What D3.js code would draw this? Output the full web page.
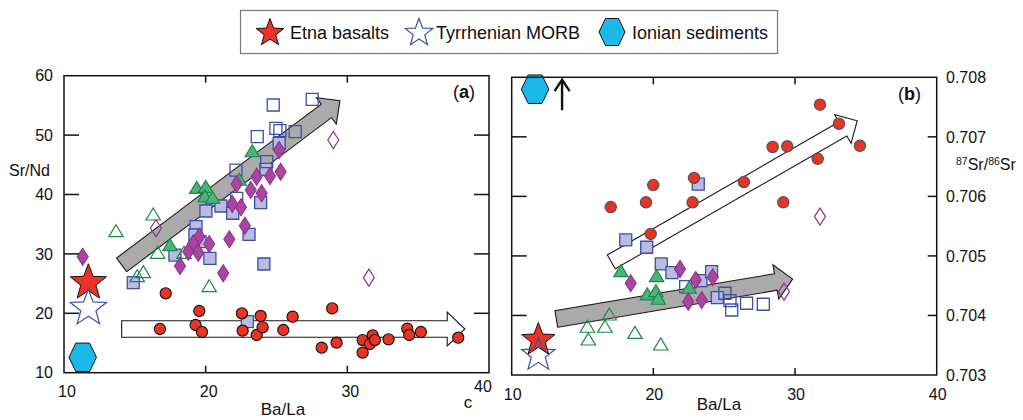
<!DOCTYPE html>
<html><head><meta charset="utf-8">
<script src="https://cdn.jsdelivr.net/npm/d3@7"></script>
<style>
body{margin:0;background:#fff}
text{font-family:"Liberation Sans",Arial,Helvetica,sans-serif;fill:#111}
</style>
</head><body>
<svg id="chart" width="1023" height="420"></svg>
<script>
// ---------- data ----------
const xTickValues = [10, 20, 30, 40];
const yTickValuesA = [10, 20, 30, 40, 50, 60];
const yTickValuesB = [0.703, 0.704, 0.705, 0.706, 0.707, 0.708];
const yTickLabelsB = ["0.703", "0.704", "0.705", "0.706", "0.707", "0.708"];
const legendLabels = ["Etna basalts", "Tyrrhenian MORB", "Ionian sediments"];

// Panel (a): Ba/La vs Sr/Nd
const etnaLavasA = [[17.18,23.37],[19.55,20.39],[22.56,20.0],[16.77,17.36],[19.29,18.03],[19.74,16.85],[22.61,17.07],[23.6,16.35],
  [23.88,19.55],[24.02,17.64],[25.48,17.19],[26.14,19.43],[28.93,20.84],[28.19,14.21],[29.24,15.05],[31.08,15.5],[31.08,13.37],
  [31.79,16.3],[31.6,14.83],[31.95,15.5],[32.91,15.62],[34.23,17.41],[34.37,16.35],[35.19,16.85],[37.83,15.89]];
const filledSquaresA = [[25.19,48.62],[24.26,44.24],[21.08,38.06],[21.91,36.84],[20.02,37.22],[23.88,38.62],[19.32,34.58],
  [19.24,33.18],[19.6,32.05],[23.06,33.3],[17.83,29.81],[20.3,29.26],[24.11,28.3],[14.89,25.15],[22.94,18.59]];
const openSquaresA = [[24.77,55.07],[27.52,56.03],[24.96,51.14],[25.24,50.74],[26.32,50.57],[23.64,49.73],[24.31,45.52],
  [22.14,44.12],[22.19,39.36]];
const filledTrianglesA = [[23.29,47.2],[19.37,41.04],[20.0,41.2],[19.95,39.6],[20.49,39.36],[22.37,42.4],[17.48,31.38]];
const openTrianglesA = [[16.3,36.55],[13.67,33.74],[16.61,30.1],[15.6,26.84],[15.17,26.16],[20.25,24.48],[18.47,30.1]];
const filledDiamondsA = [[25.19,47.49],[25.29,43.84],[24.54,43.11],[23.6,43.0],[22.19,41.77],[23.18,40.76],[23.95,40.2],
  [21.88,38.4],[22.49,37.85],[22.77,34.75],[21.67,32.46],[19.55,32.9],[19.13,31.78],[20.25,31.67],[19.48,30.2],[18.77,30.37],
  [18.19,27.96],[21.24,26.73],[11.32,29.53]];
const openDiamondsA = [[29.01,49.17],[16.49,34.31],[31.52,26.0]];
const etnaBasaltA = [11.72, 25.15];
const morbA = [11.72, 20.84];
const ionianA = [11.32, 12.59];
const grayArrowA = [[14.07,28.16],[29.48,55.8]];
const whiteArrowA = [[14.07,17.36],[38.3,17.36]];

// Panel (b): Ba/La vs 87Sr/86Sr
const etnaLavasB = [[28.42,0.70683],[29.45,0.70684],[26.39,0.70624],[22.87,0.70631],[19.99,0.70619],[16.99,0.70582],
  [19.48,0.7059],[22.77,0.7059],[29.17,0.7059],[19.81,0.70537],[31.76,0.70754],[33.1,0.70722],[31.6,0.70663],[34.58,0.70685]];
const filledSquaresB = [[23.17,0.706205],[18.05,0.705269],[19.53,0.705146],[20.56,0.704866],[21.31,0.70472],[23.36,0.704585],
  [24.11,0.704736],[24.51,0.7043]];
const openSquaresB = [[22.28,0.704484],[25.05,0.704373],[25.41,0.704249],[25.53,0.704092],[26.58,0.704205],[27.76,0.704188]];
const filledTrianglesB = [[17.71,0.704736],[20.23,0.704652],[19.57,0.704345],[20.18,0.7044],[20.35,0.704272],[22.53,0.704457]];
const openTrianglesB = [[16.89,0.704008],[15.34,0.703802],[16.58,0.703802],[15.41,0.703588],[18.7,0.7037],[20.52,0.703504]];
const filledDiamondsB = [[18.4,0.704541],[21.88,0.704782],[22.99,0.704597],[24.19,0.704642],[22.46,0.704232],[23.41,0.70426]];
const openDiamondsB = [[29.22,0.7044],[31.76,0.705661]];
const etnaBasaltB = [11.88, 0.703588];
const morbB = [11.88, 0.703336];
const ionianB = [11.65, 0.70780];
const grayArrowB = [[13.15,0.70394],[29.83,0.70461]];
const whiteArrowB = [[17.03,0.7049],[34.39,0.70727]];

// ---------- styles ----------
const RED = "#ea3323", BLUE = "#3b4fa6", LBLUE = "#b9bbe0", GREEN = "#1b8a47", LGREEN = "#4fb27c",
      PURPLE = "#8e2f8f", LPURPLE = "#a9479f", CYAN = "#1bb8ea";

const svg = d3.select("#chart");

const xA = d3.scaleLinear([10, 40], [64, 489]);
const yA = d3.scaleLinear([10, 60], [372.7, 75.7]);
const xB = d3.scaleLinear([10, 40], [511.7, 936.7]);
const yB = d3.scaleLinear([0.703, 0.708], [375, 77.3]);

function starPath(R) {
  const r = R * 0.42, pts = [];
  for (let i = 0; i < 10; i++) {
    const a = -Math.PI / 2 + i * Math.PI / 5, rr = i % 2 ? r : R;
    pts.push([rr * Math.cos(a), rr * Math.sin(a)]);
  }
  return "M" + pts.map(p => p.join(",")).join("L") + "Z";
}
function hexPath(w, h) {
  return `M${-w/2},0L${-w/4},${-h/2}L${w/4},${-h/2}L${w/2},0L${w/4},${h/2}L${-w/4},${h/2}Z`;
}
const triPath = "M0,-7L7.2,5L-7.2,5Z";
const diaPath = "M0,-8.5L5.5,0L0,8.5L-5.5,0Z";

function blockArrow(g, p0, p1, shaftW, headW, headL, fill) {
  const dx = p1[0] - p0[0], dy = p1[1] - p0[1], len = Math.hypot(dx, dy);
  const ux = dx / len, uy = dy / len, nx = -uy, ny = ux;
  const bx = p1[0] - ux * headL, by = p1[1] - uy * headL;
  const P = (x, y, s) => [x + nx * s, y + ny * s];
  const pts = [P(p0[0], p0[1], shaftW/2), P(bx, by, shaftW/2), P(bx, by, headW/2), p1,
               P(bx, by, -headW/2), P(bx, by, -shaftW/2), P(p0[0], p0[1], -shaftW/2)];
  g.append("path").attr("d", "M" + pts.map(p => p.join(",")).join("L") + "Z")
    .attr("fill", fill).attr("stroke", "#1a1a1a").attr("stroke-width", 1.1).attr("stroke-linejoin", "miter");
}

function markers(g, data, x, y, kind, fill, stroke, sw) {
  const sel = g.append("g").selectAll("path").data(data).join("path")
    .attr("transform", d => `translate(${x(d[0])},${y(d[1])})`)
    .attr("fill", fill).attr("stroke", stroke).attr("stroke-width", sw);
  if (kind === "square") sel.attr("d", "M-6,-6H6V6H-6Z");
  if (kind === "triangle") sel.attr("d", triPath);
  if (kind === "diamond") sel.attr("d", diaPath);
  if (kind === "circle") sel.attr("d", d3.symbol(d3.symbolCircle, Math.PI * 5.6 * 5.6)());
}

function frame(g, x, y, yTicks, leftLen, rightLen) {
  const [x0, x1] = x.range(), [y0, y1] = y.range();
  g.append("rect").attr("x", x0).attr("y", y1).attr("width", x1 - x0).attr("height", y0 - y1)
    .attr("fill", "none").attr("stroke", "#111").attr("stroke-width", 1.5);
  const inner = yTicks.slice(1, -1);
  g.append("g").selectAll("line").data(inner).join("line")
    .attr("x1", x0).attr("x2", x0 + leftLen).attr("y1", d => y(d)).attr("y2", d => y(d))
    .attr("stroke", "#111").attr("stroke-width", 1.5);
  g.append("g").selectAll("line").data(inner).join("line")
    .attr("x1", x1).attr("x2", x1 - rightLen).attr("y1", d => y(d)).attr("y2", d => y(d))
    .attr("stroke", "#111").attr("stroke-width", 1.5);
  const xi = xTickValues.slice(1, -1);
  g.append("g").selectAll("line").data(xi).join("line")
    .attr("x1", d => x(d)).attr("x2", d => x(d)).attr("y1", y0).attr("y2", y0 - 7)
    .attr("stroke", "#111").attr("stroke-width", 1.5);
  g.append("g").selectAll("line").data(xi).join("line")
    .attr("x1", d => x(d)).attr("x2", d => x(d)).attr("y1", y1).attr("y2", y1 + 7)
    .attr("stroke", "#111").attr("stroke-width", 1.5);
}

// ---------- legend ----------
const lg = svg.append("g");
lg.append("rect").attr("x", 240.5).attr("y", 10.5).attr("width", 537).attr("height", 43)
  .attr("fill", "#fff").attr("stroke", "#777").attr("stroke-width", 1.2);
lg.append("path").attr("d", starPath(14.5)).attr("transform", "translate(270,33)")
  .attr("fill", RED).attr("stroke", "#111").attr("stroke-width", 1);
lg.append("text").attr("x", 290).attr("y", 39).attr("font-size", 18).text(legendLabels[0]);
lg.append("path").attr("d", starPath(14.5)).attr("transform", "translate(419,33)")
  .attr("fill", "#fff").attr("stroke", BLUE).attr("stroke-width", 1.2);
lg.append("text").attr("x", 436).attr("y", 39).attr("font-size", 18).text(legendLabels[1]);
lg.append("path").attr("d", hexPath(26, 27)).attr("transform", "translate(612,32)")
  .attr("fill", CYAN).attr("stroke", "#111").attr("stroke-width", 1);
lg.append("text").attr("x", 632).attr("y", 39).attr("font-size", 18).text(legendLabels[2]);

// ---------- panel a ----------
const ga = svg.append("g");
blockArrow(ga, [xA(grayArrowA[0][0]), yA(grayArrowA[0][1])], [xA(grayArrowA[1][0]), yA(grayArrowA[1][1])], 17, 33, 17, "#aaaaaa");
blockArrow(ga, [xA(whiteArrowA[0][0]), yA(whiteArrowA[0][1])], [xA(whiteArrowA[1][0]), yA(whiteArrowA[1][1])], 16.6, 34, 17.7, "#ffffff");
markers(ga, filledSquaresA, xA, yA, "square", LBLUE, BLUE, 1.3);
markers(ga, openSquaresA, xA, yA, "square", "none", BLUE, 1.3);
markers(ga, filledTrianglesA, xA, yA, "triangle", LGREEN, GREEN, 1.2);
markers(ga, openTrianglesA, xA, yA, "triangle", "none", GREEN, 1.2);
markers(ga, filledDiamondsA, xA, yA, "diamond", LPURPLE, PURPLE, 1.1);
markers(ga, openDiamondsA, xA, yA, "diamond", "none", PURPLE, 1.2);
markers(ga, etnaLavasA, xA, yA, "circle", RED, "#111", 1.1);
ga.append("path").attr("d", starPath(19)).attr("transform", `translate(${xA(etnaBasaltA[0])},${yA(etnaBasaltA[1])})`)
  .attr("fill", RED).attr("stroke", "#111").attr("stroke-width", 1);
ga.append("path").attr("d", starPath(19)).attr("transform", `translate(${xA(morbA[0])},${yA(morbA[1])})`)
  .attr("fill", "#fff").attr("stroke", BLUE).attr("stroke-width", 1.2);
ga.append("path").attr("d", hexPath(27.5, 28.5)).attr("transform", `translate(${xA(ionianA[0])},${yA(ionianA[1])})`)
  .attr("fill", CYAN).attr("stroke", "#111").attr("stroke-width", 1);
frame(ga, xA, yA, yTickValuesA, 15, 15);
ga.append("g").selectAll("text").data(yTickValuesA).join("text")
  .attr("x", 53).attr("y", d => yA(d)).attr("dy", "0.36em").attr("text-anchor", "end")
  .attr("font-size", 16).text(d => d);
ga.append("g").selectAll("text").data(xTickValues).join("text")
  .attr("x", d => xA(d) + (d === 40 ? -6 : 3)).attr("y", d => d === 40 ? 391.5 : 396.5)
  .attr("text-anchor", "middle").attr("font-size", 16).text(d => d);
ga.append("text").attr("x", 9).attr("y", 176).attr("font-size", 16).text("Sr/Nd");
ga.append("text").attr("x", 283).attr("y", 415).attr("text-anchor", "middle").attr("font-size", 17).text("Ba/La");
ga.append("text").attr("x", 468).attr("y", 408).attr("text-anchor", "middle").attr("font-size", 17).text("c");
const ta = ga.append("text").attr("x", 475).attr("y", 98).attr("text-anchor", "end").attr("font-size", 18);
ta.append("tspan").text("(");
ta.append("tspan").attr("font-weight", "bold").text("a");
ta.append("tspan").text(")");

// ---------- panel b ----------
const gb = svg.append("g");
blockArrow(gb, [xB(grayArrowB[0][0]), yB(grayArrowB[0][1])], [xB(grayArrowB[1][0]), yB(grayArrowB[1][1])], 16.8, 34.8, 17, "#aaaaaa");
blockArrow(gb, [xB(whiteArrowB[0][0]), yB(whiteArrowB[0][1])], [xB(whiteArrowB[1][0]), yB(whiteArrowB[1][1])], 16, 33, 16.6, "#ffffff");
markers(gb, filledSquaresB, xB, yB, "square", LBLUE, BLUE, 1.3);
markers(gb, openSquaresB, xB, yB, "square", "none", BLUE, 1.3);
markers(gb, filledTrianglesB, xB, yB, "triangle", LGREEN, GREEN, 1.2);
markers(gb, openTrianglesB, xB, yB, "triangle", "none", GREEN, 1.2);
markers(gb, filledDiamondsB, xB, yB, "diamond", LPURPLE, PURPLE, 1.1);
markers(gb, openDiamondsB, xB, yB, "diamond", "none", PURPLE, 1.2);
markers(gb, etnaLavasB, xB, yB, "circle", RED, "#555", 1.3);
gb.append("path").attr("d", starPath(17.5)).attr("transform", `translate(${xB(etnaBasaltB[0])},${yB(etnaBasaltB[1])})`)
  .attr("fill", RED).attr("stroke", "#111").attr("stroke-width", 1);
gb.append("path").attr("d", starPath(17.5)).attr("transform", `translate(${xB(morbB[0])},${yB(morbB[1])})`)
  .attr("fill", "none").attr("stroke", BLUE).attr("stroke-width", 1.2);
const hx = xB(ionianB[0]), hy = yB(ionianB[1]);
gb.append("path").attr("d", hexPath(27.5, 28.5)).attr("transform", `translate(${hx},${hy})`)
  .attr("fill", CYAN).attr("stroke", "#111").attr("stroke-width", 1);
// upward arrow next to the sediment symbol (off-scale value)
gb.append("path").attr("d", `M${hx + 27},${hy + 21}V${hy - 9}M${hx + 19.5},${hy + 2}L${hx + 27},${hy - 9.5}L${hx + 34.5},${hy + 2}`)
  .attr("fill", "none").attr("stroke", "#111").attr("stroke-width", 2.4);
frame(gb, xB, yB, yTickValuesB, 15, 9);
gb.append("g").selectAll("text").data(yTickValuesB).join("text")
  .attr("x", 946).attr("y", d => yB(d)).attr("dy", "0.36em").attr("font-size", 16)
  .text((d, i) => yTickLabelsB[i]);
gb.append("g").selectAll("text").data(xTickValues).join("text")
  .attr("x", d => xB(d) + 1).attr("y", 400).attr("text-anchor", "middle").attr("font-size", 16).text(d => d);
gb.append("text").attr("x", 719).attr("y", 410).attr("text-anchor", "middle").attr("font-size", 17).text("Ba/La");
const tb = gb.append("text").attr("x", 921).attr("y", 100).attr("text-anchor", "end").attr("font-size", 18);
tb.append("tspan").text("(");
tb.append("tspan").attr("font-weight", "bold").text("b");
tb.append("tspan").text(")");
const yl = gb.append("text").attr("x", 956).attr("y", 170).attr("font-size", 16);
yl.append("tspan").attr("font-size", 10.5).attr("dy", -5).text("87");
yl.append("tspan").attr("dy", 5).text("Sr/");
yl.append("tspan").attr("font-size", 10.5).attr("dy", -5).text("86");
yl.append("tspan").attr("dy", 5).text("Sr");
</script>
</body></html>
